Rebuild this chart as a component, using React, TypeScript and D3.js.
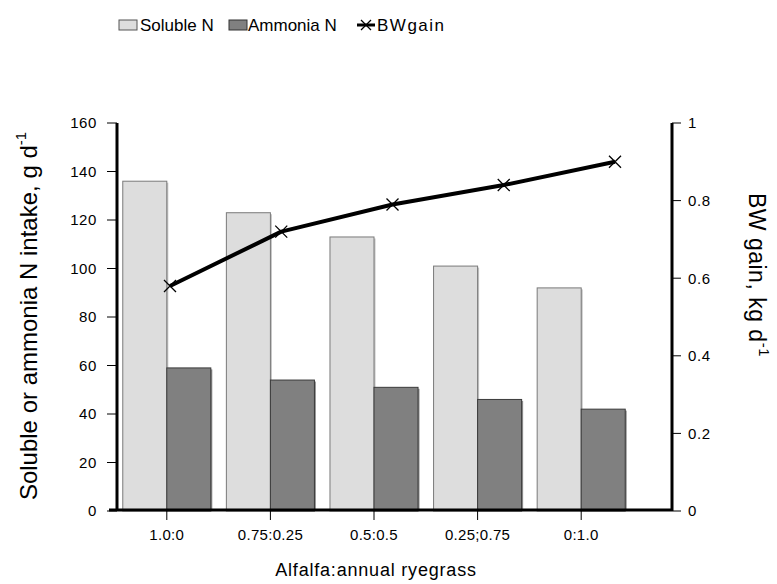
import React from "react";
import * as d3 from "d3";

const categories = ["1.0:0", "0.75:0.25", "0.5:0.5", "0.25;0.75", "0:1.0"];
const solubleN = [136, 123, 113, 101, 92];
const ammoniaN = [59, 54, 51, 46, 42];
const bwGain = [0.58, 0.72, 0.79, 0.84, 0.9];
const leftTicks = [0, 20, 40, 60, 80, 100, 120, 140, 160];
const rightTicks = [0, 0.2, 0.4, 0.6, 0.8, 1];

const W = 777;
const H = 584;
const FONT = "'Liberation Sans', Arial, sans-serif";

export default function App() {
  const xLeft = 117;
  const xRight = 672;
  const yTop = 123;
  const yBottom = 511;

  const y = d3.scaleLinear().domain([0, 160]).range([yBottom, yTop]);
  const y2 = d3.scaleLinear().domain([0, 1]).range([yBottom, yTop]);
  const xBand = d3
    .scaleBand<string>()
    .domain(categories)
    .range([115, 633])
    .paddingInner(0.15)
    .paddingOuter(0.075);
  const xSub = d3
    .scaleBand<string>()
    .domain(["s", "a"])
    .range([0, xBand.bandwidth()]);
  const xLine = d3.scalePoint<string>().domain(categories).range([170, 615]);

  const line = d3
    .line<number>()
    .x((_, i) => xLine(categories[i])!)
    .y((d) => y2(d));

  const barGroups = categories.map((c, i) => {
    const gx = xBand(c)!;
    const bars = [
      { key: "s", v: solubleN[i], fill: "#dddddd", stroke: "#7a7a7a", shadow: "#9a9a9a" },
      { key: "a", v: ammoniaN[i], fill: "#808080", stroke: "#3a3a3a", shadow: "#4a4a4a" },
    ];
    return (
      <g key={c}>
        {bars.map((b) => {
          const bx = gx + xSub(b.key)!;
          const bw = xSub.bandwidth();
          const by = y(b.v);
          return (
            <g key={b.key}>
              <rect x={bx + 1.5} y={by + 1.5} width={bw} height={yBottom - by - 1.5} fill={b.shadow} opacity={0.6} />
              <rect x={bx} y={by} width={bw} height={yBottom - by} fill={b.fill} stroke={b.stroke} strokeWidth={1} />
            </g>
          );
        })}
      </g>
    );
  });

  const xMark = (cx: number, cy: number, s: number, key: string | number) => (
    <path
      key={key}
      d={`M${cx - s},${cy - s}L${cx + s},${cy + s}M${cx - s},${cy + s}L${cx + s},${cy - s}`}
      stroke="#000"
      strokeWidth={1.3}
      fill="none"
    />
  );

  return (
    <svg width={W} height={H} style={{ position: "absolute", left: 0, top: 0, background: "#fff" }} fontFamily={FONT}>
      <rect x={0} y={0} width={W} height={H} fill="#fff" />

      {/* Legend */}
      <g fontSize={17} fill="#000">
        <rect x={119} y={20} width={18} height={10} fill="#dddddd" stroke="#555" strokeWidth={1} />
        <text x={140} y={31}>Soluble N</text>
        <rect x={229} y={20} width={18} height={10} fill="#808080" stroke="#333" strokeWidth={1} />
        <text x={248} y={31}>Ammonia N</text>
        <line x1={357} x2={375} y1={25} y2={25} stroke="#000" strokeWidth={3} />
        {xMark(366, 25, 5, "lg")}
        <text x={377} y={31} letterSpacing={1.5}>BWgain</text>
      </g>

      {/* Bars */}
      {barGroups}

      {/* Line */}
      <path d={line(bwGain) || ""} fill="none" stroke="#000" strokeWidth={4} strokeLinejoin="round" />
      {bwGain.map((v, i) => xMark(xLine(categories[i])!, y2(v), 6, i))}

      {/* Left axis */}
      <line x1={xLeft} x2={xLeft} y1={yTop} y2={yBottom} stroke="#000" strokeWidth={3} />
      {leftTicks.map((t) => (
        <g key={t}>
          <line x1={xLeft - 10} x2={xLeft} y1={y(t)} y2={y(t)} stroke="#000" strokeWidth={1} />
          <text x={xLeft - 20} y={y(t)} dy="0.36em" textAnchor="end" fontSize={15} letterSpacing={0.6}>
            {t}
          </text>
        </g>
      ))}

      {/* Right axis */}
      <line x1={xRight} x2={xRight} y1={yTop} y2={yBottom} stroke="#000" strokeWidth={3} />
      {rightTicks.map((t) => (
        <g key={t}>
          <line x1={xRight} x2={xRight + 9} y1={y2(t)} y2={y2(t)} stroke="#000" strokeWidth={1} />
          <text x={xRight + 16} y={y2(t)} dy="0.36em" textAnchor="start" fontSize={15} letterSpacing={0.6}>
            {t === 0 || t === 1 ? String(t) : t.toFixed(1)}
          </text>
        </g>
      ))}

      {/* X axis */}
      <line x1={xLeft - 8} x2={xRight} y1={yBottom - 1} y2={yBottom - 1} stroke="#000" strokeWidth={3} />
      {categories.map((c) => {
        const cx = xBand(c)! + xBand.bandwidth() / 2;
        return (
          <g key={c}>
            <line x1={cx} x2={cx} y1={yBottom} y2={yBottom + 9} stroke="#000" strokeWidth={1} />
            <text x={cx} y={yBottom + 29} textAnchor="middle" fontSize={15} letterSpacing={0.3}>
              {c}
            </text>
          </g>
        );
      })}

      {/* Axis titles */}
      <text x={376} y={576} textAnchor="middle" fontSize={18} letterSpacing={0.8}>
        Alfalfa:annual ryegrass
      </text>
      <text transform="translate(37,316) rotate(-90)" textAnchor="middle" fontSize={24}>
        Soluble or ammonia N intake, g d
        <tspan dy={-11} fontSize={15}>-1</tspan>
      </text>
      <text transform="translate(749,275) rotate(90)" textAnchor="middle" fontSize={23} letterSpacing={0.5}>
        BW gain, kg d
        <tspan dy={-10} fontSize={15}>-1</tspan>
      </text>
    </svg>
  );
}
